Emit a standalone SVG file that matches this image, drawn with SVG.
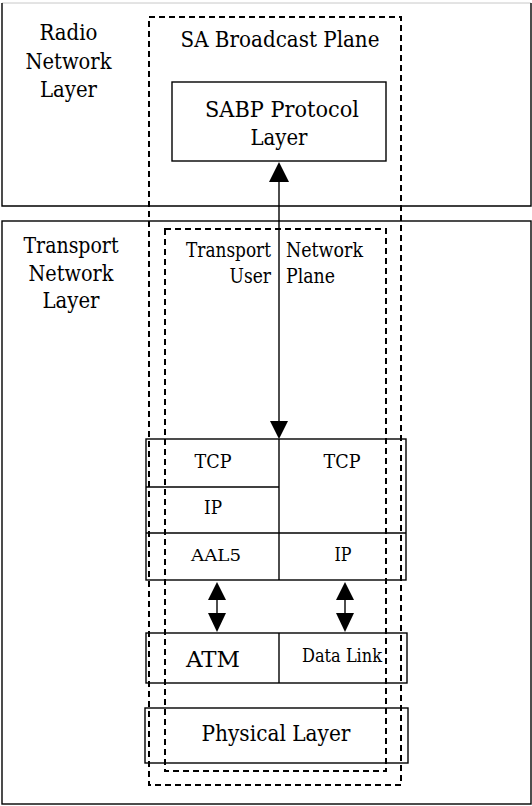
<svg xmlns="http://www.w3.org/2000/svg" width="532" height="806" viewBox="0 0 532 806">
<defs>
<style>
.box{fill:none;stroke:#000;stroke-width:1.4}
.dash{fill:none;stroke:#000;stroke-width:2;stroke-dasharray:6 4}
.ln{stroke:#000;stroke-width:1.4;fill:none}
text{font-family:'DejaVu Serif','Liberation Serif','Times New Roman',serif;fill:#000}
.m{text-anchor:middle}
.ah{fill:#000;stroke:none}
</style>
</defs>
<rect width="532" height="806" fill="#fff"/>
<g id="radio-network-layer">
<line x1="2" y1="3" x2="531" y2="3" stroke="#c8c8c8" stroke-width="1"/>
<polyline class="ln" points="2,3 2,206 531,206 531,3"/>
<text class="m" font-size="21.8" x="68.5" y="40" textLength="58" lengthAdjust="spacingAndGlyphs">Radio</text>
<text class="m" font-size="21.8" x="68.5" y="69" textLength="86" lengthAdjust="spacingAndGlyphs">Network</text>
<text class="m" font-size="21.8" x="68.5" y="97" textLength="57" lengthAdjust="spacingAndGlyphs">Layer</text>
</g>
<g id="transport-network-layer">
<rect class="box" x="2" y="221" width="529" height="583"/>
<text class="m" font-size="21.8" x="71" y="253" textLength="95" lengthAdjust="spacingAndGlyphs">Transport</text>
<text class="m" font-size="21.8" x="71" y="281" textLength="85" lengthAdjust="spacingAndGlyphs">Network</text>
<text class="m" font-size="21.8" x="71" y="308" textLength="57" lengthAdjust="spacingAndGlyphs">Layer</text>
</g>
<g id="sa-broadcast-plane">
<rect class="dash" x="149" y="17" width="252" height="768"/>
<text class="m" font-size="22.3" x="280" y="47" textLength="199" lengthAdjust="spacingAndGlyphs">SA Broadcast Plane</text>
</g>
<g id="transport-user-network-plane">
<rect class="dash" x="165" y="229" width="221" height="542"/>
<text font-size="19.6" x="271" y="257" text-anchor="end" textLength="85" lengthAdjust="spacingAndGlyphs">Transport</text>
<text font-size="19.6" x="271" y="283" text-anchor="end" textLength="41.5" lengthAdjust="spacingAndGlyphs">User</text>
<text font-size="19.6" x="286" y="257" textLength="77" lengthAdjust="spacingAndGlyphs">Network</text>
<text font-size="19.6" x="286" y="283" textLength="49" lengthAdjust="spacingAndGlyphs">Plane</text>
</g>
<g id="sabp-protocol-layer">
<rect class="box" x="172" y="82" width="214" height="79"/>
<text class="m" font-size="22.3" x="282" y="117" textLength="154" lengthAdjust="spacingAndGlyphs">SABP Protocol</text>
<text class="m" font-size="22.3" x="279" y="145" textLength="57" lengthAdjust="spacingAndGlyphs">Layer</text>
</g>
<g id="upper-stack">
<rect class="box" x="146" y="439" width="260" height="141"/>
<line class="ln" x1="279" y1="439" x2="279" y2="580"/>
<line class="ln" x1="146" y1="487" x2="279" y2="487"/>
<line class="ln" x1="146" y1="533" x2="406" y2="533"/>
<text class="m" font-size="17.8" x="213" y="468" textLength="37" lengthAdjust="spacingAndGlyphs">TCP</text>
<text class="m" font-size="17.8" x="342" y="468" textLength="37" lengthAdjust="spacingAndGlyphs">TCP</text>
<text class="m" font-size="17.8" x="213" y="514" textLength="18" lengthAdjust="spacingAndGlyphs">IP</text>
<text class="m" font-size="17.4" x="216" y="561" textLength="50" lengthAdjust="spacingAndGlyphs">AAL5</text>
<text class="m" font-size="17.8" x="343" y="561" textLength="17" lengthAdjust="spacingAndGlyphs">IP</text>
</g>
<g id="link-stack">
<rect class="box" x="146" y="633" width="261" height="50"/>
<line class="ln" x1="279" y1="633" x2="279" y2="683"/>
<text class="m" font-size="21.4" x="213" y="667" textLength="54" lengthAdjust="spacingAndGlyphs">ATM</text>
<text class="m" font-size="17.8" x="342" y="662" textLength="80" lengthAdjust="spacingAndGlyphs">Data Link</text>
</g>
<g id="physical-layer">
<rect class="box" x="145" y="708" width="263" height="55"/>
<text class="m" font-size="22.3" x="276" y="741" textLength="149" lengthAdjust="spacingAndGlyphs">Physical Layer</text>
</g>
<g id="connectors">
<line class="ln" x1="279" y1="180" x2="279" y2="423"/>
<polygon class="ah" points="279,162 269,182 289,182"/>
<polygon class="ah" points="279,439 270,421 288,421"/>
<line class="ln" x1="217" y1="598" x2="217" y2="616"/>
<polygon class="ah" points="217,582 208,600 226,600"/>
<polygon class="ah" points="217,632 208,613 226,613"/>
<line class="ln" x1="345" y1="598" x2="345" y2="616"/>
<polygon class="ah" points="345,582 336,600 354,600"/>
<polygon class="ah" points="345,632 336,613 354,613"/>
</g>
</svg>
